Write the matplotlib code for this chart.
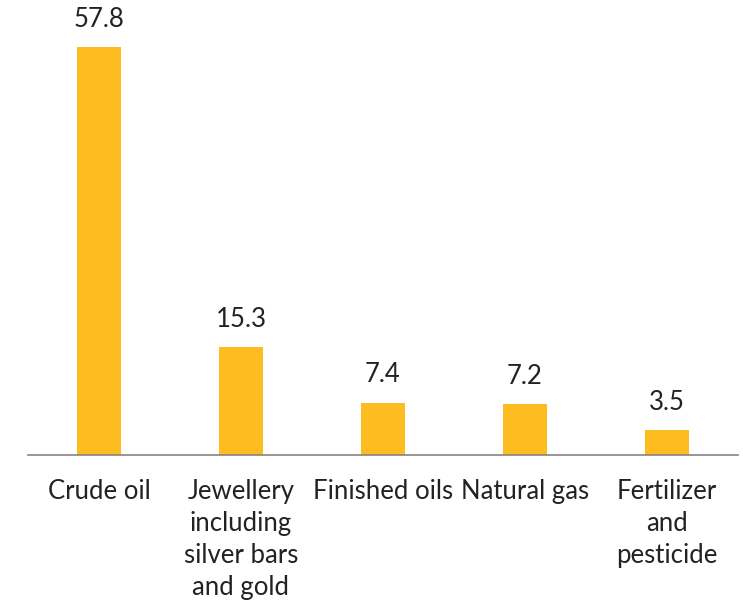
import matplotlib
matplotlib.use("Agg")
import matplotlib.pyplot as plt
import numpy as np

categories = ["Crude oil", "Jewellery\nincluding\nsilver bars\nand gold",
              "Finished oils", "Natural gas", "Fertilizer\nand\npesticide"]
values = [57.8, 15.3, 7.4, 7.2, 3.5]
labels = ["57.8", "15.3", "7.4", "7.2", "3.5"]

plt.rcParams['font.family'] = ['Lato', 'DejaVu Sans']

fig = plt.figure(figsize=(7.43, 6.08), dpi=100)
ax = fig.add_axes([28 / 743, 1 - 455 / 608, 710 / 743, 455 / 608])

x = np.arange(len(categories))
bars = ax.bar(x, values, width=0.31, color="#FDBC1F")

# value labels above bars
for b, lab in zip(bars, labels):
    ax.annotate(lab, (b.get_x() + b.get_width() / 2, b.get_height()),
                xytext=(0, 11), textcoords="offset points",
                ha="center", va="bottom", fontsize=18.5, color="#222222")

ax.set_xlim(-0.5, 4.5)
ax.set_ylim(0, 57.8 * 455 / 408)
ax.set_xticks(x)
ax.set_xticklabels(categories, fontsize=18.5, color="#222222", linespacing=1.36)
ax.tick_params(axis="x", length=0, pad=17)
ax.set_yticks([])
for s in ["top", "right", "left"]:
    ax.spines[s].set_visible(False)
ax.spines["bottom"].set_color("#8C8080")
ax.spines["bottom"].set_linewidth(1.2)

fig.savefig("out.png", dpi=100)
